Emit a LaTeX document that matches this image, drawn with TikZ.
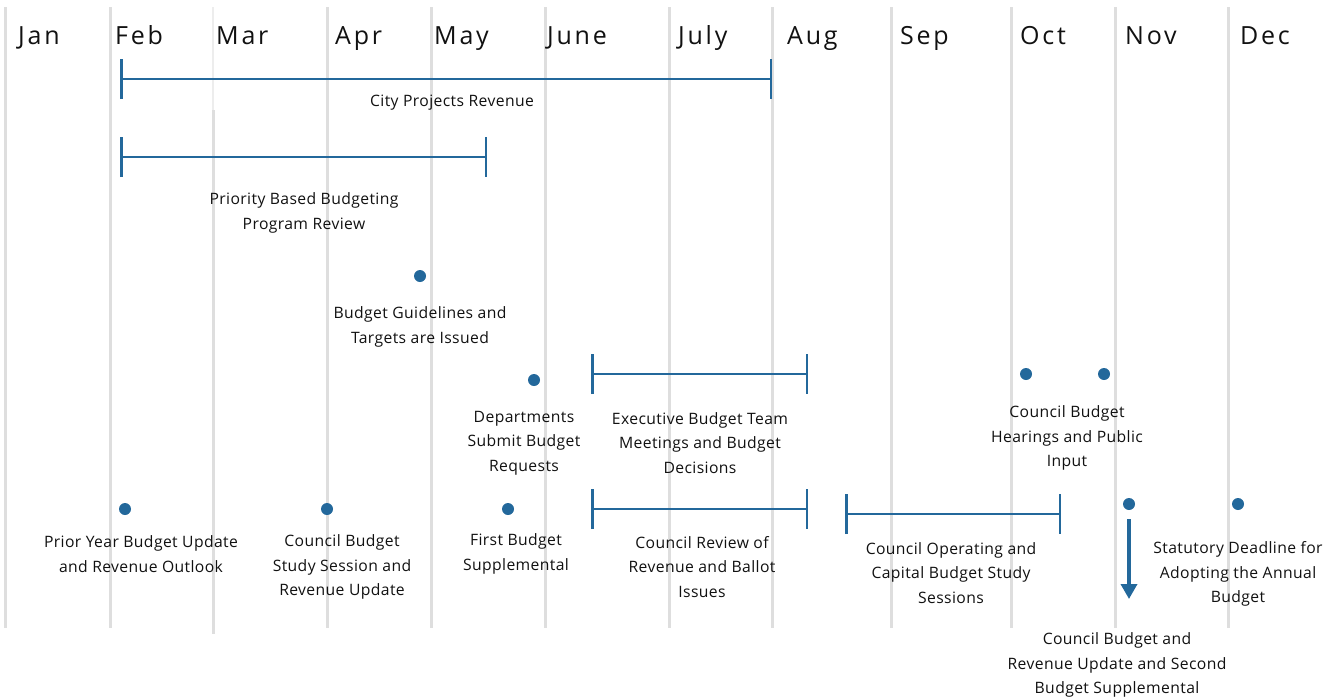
\documentclass[tikz,border=0pt]{standalone}
\usepackage{fontspec}
\setmainfont{Open Sans}
\newfontfamily\monthfont[LetterSpace=11]{Open Sans}
\newfontfamily\lblfont[LetterSpace=2.5]{Open Sans}
\usetikzlibrary{arrows.meta}
\definecolor{tlblue}{HTML}{23689B}
\definecolor{tlgrid}{HTML}{DEDEDE}
\definecolor{tlgridlight}{HTML}{EDEDED}
\definecolor{tltext}{HTML}{111111}
\tikzset{
  gridline/.style={draw=tlgrid, line width=3pt},
  month/.style={anchor=base west, inner sep=0pt, font=\monthfont\fontsize{25}{28}\selectfont, text=tltext},
  lbl/.style={align=center, inner sep=0pt, yshift=-2pt, font=\lblfont\fontsize{15.7}{24.5}\selectfont, text=tltext},
  dot/.style={circle, fill=tlblue, inner sep=0pt, minimum size=12pt},
  bar/.style={draw=tlblue, line width=2.5pt, {Bar[width=40pt]}-{Bar[width=40pt]}},
  downarrow/.style={draw=tlblue, line width=3.5pt, -{Triangle[width=16pt,length=15pt]}}
}
\begin{document}
\begin{tikzpicture}[x=1pt,y=-1pt]
\useasboundingbox (0,0) rectangle (1336,699);
% grid lines
\foreach \gx in {5,110,327,431,545,669,772,891,1011,1115,1228}
  \draw[gridline] (\gx,7) -- (\gx,628);
\draw[draw=tlgridlight, line width=2pt] (213,7) -- (213,110);
\draw[gridline] (213,110) -- (213,634);
% months
\node[month] (mJan) at (18,44) {Jan};
\node[month] (mFeb) at (115,44) {Feb};
\node[month] (mMar) at (216,44) {Mar};
\node[month] (mApr) at (335,44) {Apr};
\node[month] (mMay) at (434,44) {May};
\node[month] (mJun) at (547,44) {June};
\node[month] (mJul) at (678,44) {July};
\node[month] (mAug) at (787,44) {Aug};
\node[month] (mSep) at (900,44) {Sep};
\node[month] (mOct) at (1020,44) {Oct};
\node[month] (mNov) at (1125,44) {Nov};
\node[month] (mDec) at (1240,44) {Dec};
% City Projects Revenue
\coordinate (cprA) at (120,79);
\coordinate (cprB) at (772,79);
\draw[bar] (cprA) -- (cprB);
\node[lbl] (cprL) at (452,101) {City Projects Revenue};
% Priority Based Budgeting
\coordinate (pbbA) at (120,157);
\coordinate (pbbB) at (487,157);
\draw[bar] (pbbA) -- (pbbB);
\node[lbl] (pbbL) at (304,211) {Priority Based Budgeting\\Program Review};
% Guidelines
\node[dot] (bgD) at (420,276) {};
\node[lbl] (bgL) at (420,325) {Budget Guidelines and\\Targets are Issued};
% Departments
\node[dot] (dsD) at (534,380) {};
\node[lbl] (dsL) at (524,441) {Departments\\Submit Budget\\Requests};
% Executive Budget Team
\coordinate (ebA) at (591,374);
\coordinate (ebB) at (808,374);
\draw[bar] (ebA) -- (ebB);
\node[lbl] (ebL) at (700,441) {Executive Budget Team\\Meetings and Budget\\Decisions};
% Hearings
\node[dot] (hpD1) at (1026,374) {};
\node[dot] (hpD2) at (1104,374) {};
\node[lbl] (hpL) at (1067,436) {Council Budget\\Hearings and Public\\Input};
% Prior Year
\node[dot] (pyD) at (125,509) {};
\node[lbl] (pyL) at (141,552) {Prior Year Budget Update\\and Revenue Outlook};
% Council Study Session
\node[dot] (csD) at (327,509) {};
\node[lbl] (csL) at (342,565) {Council Budget\\Study Session and\\Revenue Update};
% First Budget Supplemental
\node[dot] (fbD) at (508,509) {};
\node[lbl] (fbL) at (516,552) {First Budget\\Supplemental};
% Council Review
\coordinate (crA) at (591,509);
\coordinate (crB) at (808,509);
\draw[bar] (crA) -- (crB);
\node[lbl] (crL) at (702,565) {Council Review of\\Revenue and Ballot\\Issues};
% Council Operating
\coordinate (coA) at (845,514);
\coordinate (coB) at (1061,514);
\draw[bar] (coA) -- (coB);
\node[lbl] (coL) at (951,571) {Council Operating and\\Capital Budget Study\\Sessions};
% Second supplemental
\node[dot] (ssD) at (1129,504) {};
\coordinate (ssA) at (1129,519);
\coordinate (ssB) at (1129,599);
\draw[downarrow] (ssA) -- (ssB);
\node[lbl] (ssL) at (1117,663) {Council Budget and\\Revenue Update and Second\\Budget Supplemental};
% Statutory deadline
\node[dot] (sdD) at (1238,504) {};
\node[lbl] (sdL) at (1238,572) {Statutory Deadline for\\Adopting the Annual\\Budget};
\end{tikzpicture}
\end{document}
